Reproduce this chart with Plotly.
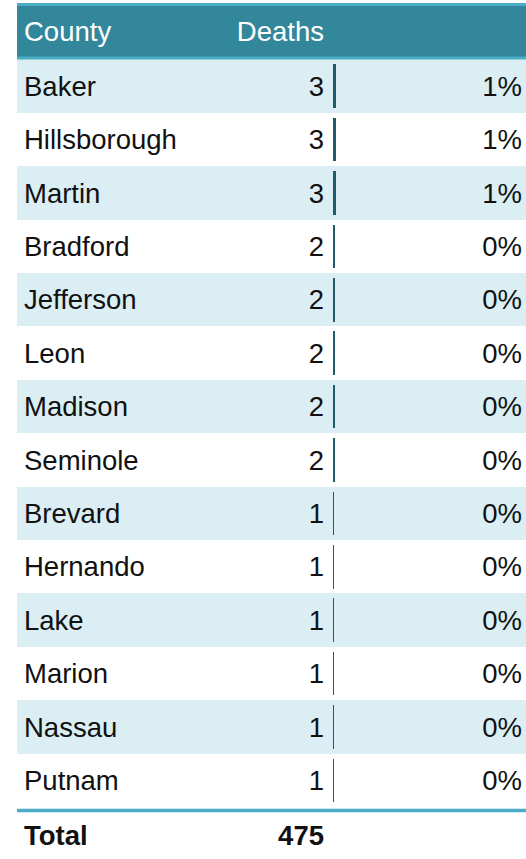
import plotly.graph_objects as go

counties = ["Baker", "Hillsborough", "Martin", "Bradford", "Jefferson", "Leon",
            "Madison", "Seminole", "Brevard", "Hernando", "Lake", "Marion",
            "Nassau", "Putnam"]
deaths = [3, 3, 3, 2, 2, 2, 2, 2, 1, 1, 1, 1, 1, 1]
pct_labels = ["1%", "1%", "1%", "0%", "0%", "0%", "0%", "0%", "0%", "0%",
              "0%", "0%", "0%", "0%"]
headers = ["County", "Deaths"]
total_label = "Total"
total_value = 475

n = len(counties)
rows = list(range(n))
TXT_DY = 0.05  # small vertical nudge so text sits centred like the reference
text_rows = [r + TXT_DY for r in rows]
FONT = "Liberation Sans, Arial, sans-serif"
FS = 27.5
HEADER_BG = "#33879b"
LINE_C = "#4bacc6"
ALT_BG = "#daeef3"
BAR_C = "#1f5b6b"

fig = go.Figure()

# alternating row backgrounds
shaded = [i for i in rows if i % 2 == 0]
fig.add_trace(go.Bar(
    y=shaded, x=[509] * len(shaded), base=17, orientation="h", width=1,
    marker=dict(color=ALT_BG, line=dict(width=0)), hoverinfo="skip",
    xaxis="x", yaxis="y", showlegend=False))
# header background
fig.add_trace(go.Bar(
    y=[-1.035], x=[509], base=17, orientation="h", width=0.96,
    marker=dict(color=HEADER_BG, line=dict(width=0)), hoverinfo="skip",
    xaxis="x", yaxis="y", showlegend=False))

# county names
fig.add_trace(go.Scatter(
    x=[24] * n, y=text_rows, text=counties, mode="text", textposition="middle right",
    textfont=dict(family=FONT, size=FS, color="#111111"), hoverinfo="skip",
    xaxis="x", yaxis="y", showlegend=False))
# death numbers
fig.add_trace(go.Scatter(
    x=[324] * n, y=text_rows, text=[str(d) for d in deaths], mode="text",
    textposition="middle left",
    textfont=dict(family=FONT, size=FS, color="#111111"), hoverinfo="skip",
    xaxis="x", yaxis="y", showlegend=False))
# percentages
fig.add_trace(go.Scatter(
    x=[522] * n, y=text_rows, text=pct_labels, mode="text", textposition="middle left",
    textfont=dict(family=FONT, size=FS, color="#111111"), hoverinfo="skip",
    xaxis="x", yaxis="y", showlegend=False))
# headers
fig.add_trace(go.Scatter(
    x=[24], y=[-0.97], text=[headers[0]], mode="text", textposition="middle right",
    textfont=dict(family=FONT, size=FS, color="white"), hoverinfo="skip",
    xaxis="x", yaxis="y", showlegend=False))
fig.add_trace(go.Scatter(
    x=[324], y=[-0.97], text=[headers[1]], mode="text", textposition="middle left",
    textfont=dict(family=FONT, size=FS, color="white"), hoverinfo="skip",
    xaxis="x", yaxis="y", showlegend=False))
# total row
fig.add_trace(go.Scatter(
    x=[24], y=[n + 0.08], text=["<b>" + total_label + "</b>"], mode="text",
    textposition="middle right",
    textfont=dict(family=FONT, size=FS, color="#111111"), hoverinfo="skip",
    xaxis="x", yaxis="y", showlegend=False))
fig.add_trace(go.Scatter(
    x=[324], y=[n + 0.08], text=["<b>" + str(total_value) + "</b>"], mode="text",
    textposition="middle left",
    textfont=dict(family=FONT, size=FS, color="#111111"), hoverinfo="skip",
    xaxis="x", yaxis="y", showlegend=False))

# death bars (separate subplot starting at the bar column)
fig.add_trace(go.Bar(
    y=rows, x=deaths, base=0, orientation="h", width=0.82,
    marker=dict(color=BAR_C, line=dict(width=0)), hoverinfo="skip",
    xaxis="x2", yaxis="y", showlegend=False))

# lines: top border, under header, bottom of body
fig.add_shape(type="line", xref="x", yref="paper", x0=17, x1=526,
              y0=1 - 4.5 / 859, y1=1 - 4.5 / 859, line=dict(color=LINE_C, width=3))
fig.add_shape(type="line", xref="x", yref="paper", x0=17, x1=526,
              y0=1 - 58 / 859, y1=1 - 58 / 859, line=dict(color=LINE_C, width=3))
fig.add_shape(type="line", xref="x", yref="paper", x0=17, x1=526,
              y0=1 - 810.5 / 859, y1=1 - 810.5 / 859, line=dict(color=LINE_C, width=3.5))

fig.update_layout(
    width=526, height=859,
    margin=dict(l=0, r=0, t=0, b=0),
    paper_bgcolor="white", plot_bgcolor="rgba(0,0,0,0)",
    barmode="overlay", bargap=0,
    xaxis=dict(range=[0, 526], domain=[0, 1], visible=False, fixedrange=True),
    xaxis2=dict(range=[0, 193], domain=[333 / 526, 1], visible=False,
                anchor="y", fixedrange=True),
    yaxis=dict(range=[14.472, -1.614], visible=False, fixedrange=True),
    showlegend=False,
)

fig.write_html("out.html", config={"displayModeBar": False},
               post_script="document.body.style.margin='0';")
